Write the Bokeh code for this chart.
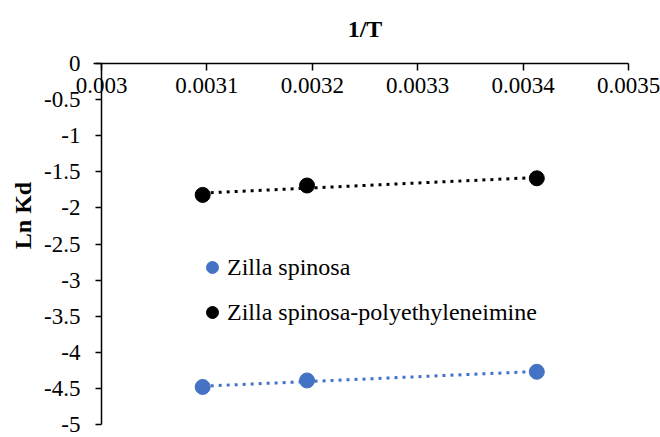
import numpy as np
from bokeh.plotting import figure
from bokeh.models import Range1d, FixedTicker, Legend, LegendItem, Label
from bokeh.embed import file_html
from bokeh.resources import INLINE

# ---- data ----
inv_T = [0.003096, 0.003195, 0.003413]
ln_kd_zs = [-4.48, -4.39, -4.27]
ln_kd_zs_pei = [-1.82, -1.69, -1.59]
series_names = ["Zilla spinosa", "Zilla spinosa-polyethyleneimine"]
series_colors = ["#4472C4", "#000000"]
x_ticks = [0.003, 0.0031, 0.0032, 0.0033, 0.0034, 0.0035]
y_ticks = [0, -0.5, -1, -1.5, -2, -2.5, -3, -3.5, -4, -4.5, -5]
x_title = "1/T"
y_title = "Ln Kd"

FONT = "Liberation Serif"

# ---- layout (pixels) ----
W, H = 660, 437
AX_LEFT, AX_RIGHT = 101, 628      # pixel of first / last x tick
AX_TOP, AX_BOTTOM = 63, 424       # pixel of first / last y tick
xpp = (x_ticks[-1] - x_ticks[0]) / (AX_RIGHT - AX_LEFT)   # data per pixel
ypp = (y_ticks[0] - y_ticks[-1]) / (AX_BOTTOM - AX_TOP)

x_range = Range1d(x_ticks[0] - AX_LEFT * xpp, x_ticks[0] + (W - AX_LEFT) * xpp)
y_range = Range1d(y_ticks[-1] - (H - AX_BOTTOM) * ypp, y_ticks[0] + AX_TOP * ypp)

p = figure(width=W, height=H, output_backend="svg", toolbar_location=None,
           x_range=x_range, y_range=y_range,
           min_border_left=0, min_border_right=0, min_border_top=0, min_border_bottom=0,
           background_fill_color="white", border_fill_color="white")
p.grid.visible = False
p.outline_line_color = None

def style_axis(a):
    a.minor_tick_line_color = None
    a.major_tick_in = 0
    a.axis_line_width = 1.5
    a.major_tick_line_width = 1.5
    a.axis_line_color = "black"
    a.major_tick_line_color = "black"
    a.major_label_text_font = FONT
    a.major_label_text_font_size = "23px"
    a.major_label_text_color = "black"

# x axis drawn at y = 0, labels below the line
xa = p.xaxis[0]
xa.fixed_location = y_ticks[0]
xa.bounds = (x_ticks[0] - 8 * xpp, x_ticks[-1])
xa.ticker = FixedTicker(ticks=x_ticks)
xa.major_label_overrides = {t: f"{t:g}" for t in x_ticks}
xa.major_tick_out = 7
xa.major_label_standoff = 7
style_axis(xa)

ya = p.yaxis[0]
ya.fixed_location = x_ticks[0]
ya.bounds = (y_ticks[-1], y_ticks[0])
ya.ticker = FixedTicker(ticks=y_ticks)
ya.major_label_overrides = {t: f"{t:g}" for t in y_ticks}
ya.major_tick_out = 6
ya.major_label_standoff = 15
style_axis(ya)

# axis titles
p.add_layout(Label(x=(x_ticks[0] + x_ticks[-1]) / 2, y=y_ticks[0] + 35 * ypp, text=x_title,
                   text_align="center", text_baseline="middle", text_font=FONT,
                   text_font_size="24px", text_font_style="bold", text_color="black"))
p.add_layout(Label(x=x_ticks[0] - 79 * xpp, y=y_ticks[0] - 152 * ypp, text=y_title, angle=np.pi / 2,
                   text_align="center", text_baseline="middle", text_font=FONT,
                   text_font_size="24px", text_font_style="bold", text_color="black"))

items = []
for name, color, ys in zip(series_names, series_colors, [ln_kd_zs, ln_kd_zs_pei]):
    xs = np.array(inv_T)
    slope, icpt = np.polyfit(xs, np.array(ys), 1)
    xl = np.array([xs.min(), xs.max()])
    p.line(xl, slope * xl + icpt, line_color=color, line_width=3, line_dash="3 5")
    r = p.scatter(inv_T, ys, size=15, fill_color=color, line_color=color)
    items.append(LegendItem(label=name, renderers=[r]))

legend = Legend(items=items, location=(197, 108), padding=0, margin=0,
                glyph_width=30, glyph_height=34, label_standoff=0, spacing=11,
                label_text_font=FONT, label_text_font_size="24px", label_text_color="black",
                border_line_color=None, background_fill_alpha=0)
p.add_layout(legend, "center")

open("out.html", "w").write(file_html(p, INLINE))
